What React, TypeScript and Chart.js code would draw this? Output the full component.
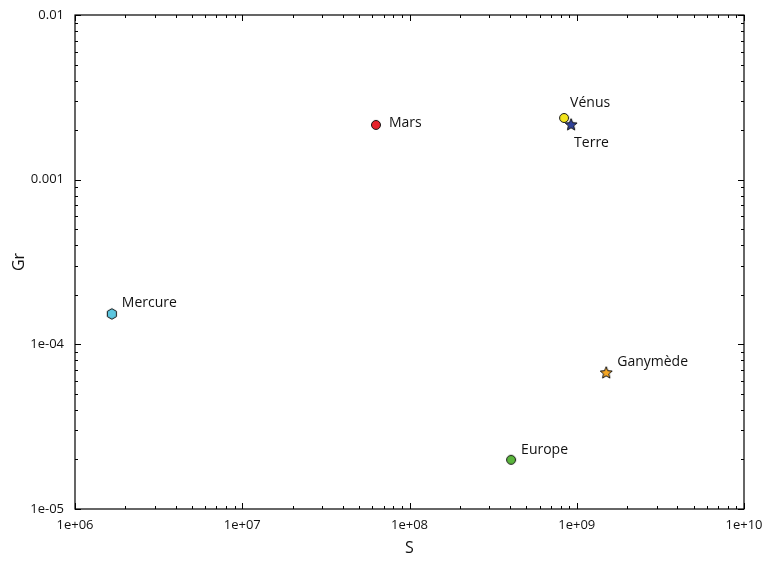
import React, { useEffect, useRef } from 'react';
import { Chart, registerables } from 'chart.js';

Chart.register(...registerables);

// ---- data ----
const names = ['Mercure', 'Mars', 'Vénus', 'Terre', 'Europe', 'Ganymède'];
const sValues = [1.66e6, 6.3e7, 8.4e8, 9.25e8, 4.05e8, 1.5e9];
const grValues = [1.53e-4, 2.15e-3, 2.37e-3, 2.15e-3, 1.99e-5, 6.7e-5];

const xTickValues = [1e6, 1e7, 1e8, 1e9, 1e10];
const xTickLabels = ['1e+06', '1e+07', '1e+08', '1e+09', '1e+10'];
const yTickValues = [1e-5, 1e-4, 1e-3, 1e-2];
const yTickLabels = ['1e-05', '1e-04', '0.001', '0.01'];

const xTitle = 'S';
const yTitle = 'Gr';

// ---- styles ----
const markerShapes = ['hexagon', 'circle', 'circle', 'star', 'circle', 'star'];
const markerColors = ['#5cc6df', '#e5222b', '#f3e41c', '#2f4199', '#5bb63d', '#f5a623'];
const labelOffsets: [number, number][] = [
  [10, -11],
  [13, -2],
  [6, -15],
  [3, 18],
  [10, -10],
  [11, -11],
];
const FONT = "'Open Sans', 'DejaVu Sans', sans-serif";

function makeMarker(shape: string, color: string): HTMLCanvasElement {
  const size = 16;
  const c = document.createElement('canvas');
  c.width = size;
  c.height = size;
  const ctx = c.getContext('2d')!;
  const cx = size / 2;
  const cy = size / 2;
  ctx.beginPath();
  if (shape === 'circle') {
    ctx.arc(cx, cy, 4.5, 0, Math.PI * 2);
  } else if (shape === 'hexagon') {
    const r = 5.3;
    for (let i = 0; i < 6; i++) {
      const a = (Math.PI / 3) * i + Math.PI / 6;
      const px = cx + r * Math.cos(a);
      const py = cy + r * Math.sin(a);
      if (i === 0) ctx.moveTo(px, py);
      else ctx.lineTo(px, py);
    }
    ctx.closePath();
  } else if (shape === 'star') {
    const ro = 6.3;
    const ri = 2.8;
    for (let i = 0; i < 10; i++) {
      const r = i % 2 === 0 ? ro : ri;
      const a = -Math.PI / 2 + (Math.PI / 5) * i;
      const px = cx + r * Math.cos(a);
      const py = cy + r * Math.sin(a);
      if (i === 0) ctx.moveTo(px, py);
      else ctx.lineTo(px, py);
    }
    ctx.closePath();
  }
  ctx.fillStyle = color;
  ctx.fill();
  ctx.lineWidth = 1;
  ctx.strokeStyle = '#111';
  ctx.lineJoin = 'round';
  ctx.stroke();
  return c;
}

function labelFor(values: number[], labels: string[], v: number): string {
  for (let i = 0; i < values.length; i++) {
    if (Math.abs(Math.log10(v) - Math.log10(values[i])) < 1e-6) return labels[i];
  }
  return '';
}

function zeroPadding(s: any) {
  s.paddingTop = 0;
  s.paddingBottom = 0;
  s.paddingLeft = 0;
  s.paddingRight = 0;
}

const framePlugin = {
  id: 'frameTicks',
  beforeDatasetsDraw(chart: any) {
    const { ctx, chartArea, scales } = chart;
    const { left, right, top, bottom } = chartArea;
    ctx.save();
    ctx.strokeStyle = '#000';
    ctx.lineWidth = 1.2;
    ctx.strokeRect(left, top, right - left, bottom - top);
    ctx.lineWidth = 1;
    ctx.beginPath();
    const xs = scales.x;
    const ys = scales.y;
    for (let d = 6; d <= 10; d++) {
      for (let k = 1; k <= 9; k++) {
        const v = k * Math.pow(10, d);
        if (v > 1e10 * 1.0001) break;
        const len = k === 1 ? 6 : 3;
        const px = Math.round(xs.getPixelForValue(v)) + 0.5;
        ctx.moveTo(px, bottom);
        ctx.lineTo(px, bottom - len);
        ctx.moveTo(px, top);
        ctx.lineTo(px, top + len);
      }
    }
    for (let d = -5; d <= -2; d++) {
      for (let k = 1; k <= 9; k++) {
        const v = k * Math.pow(10, d);
        if (v > 1e-2 * 1.0001) break;
        const len = k === 1 ? 6 : 3;
        const py = Math.round(ys.getPixelForValue(v)) + 0.5;
        ctx.moveTo(left, py);
        ctx.lineTo(left + len, py);
        ctx.moveTo(right, py);
        ctx.lineTo(right - len, py);
      }
    }
    ctx.stroke();
    ctx.restore();
  },
  afterDatasetsDraw(chart: any) {
    const { ctx } = chart;
    const meta = chart.getDatasetMeta(0);
    ctx.save();
    ctx.font = `14px ${FONT}`;
    ctx.fillStyle = '#111';
    ctx.textAlign = 'left';
    ctx.textBaseline = 'middle';
    meta.data.forEach((pt: any, i: number) => {
      const [dx, dy] = labelOffsets[i];
      ctx.fillText(names[i], pt.x + dx, pt.y + dy);
    });
    ctx.restore();
  },
};

export default function App() {
  const ref = useRef<HTMLCanvasElement>(null);
  useEffect(() => {
    if (!ref.current) return;
    Chart.defaults.font.family = FONT;
    const markers = markerShapes.map((s, i) => makeMarker(s, markerColors[i]));
    const chart = new Chart(ref.current, {
      type: 'scatter',
      data: {
        datasets: [
          {
            data: sValues.map((s, i) => ({ x: s, y: grValues[i] })),
            pointStyle: markers as any,
            pointRadius: 6,
            backgroundColor: markerColors,
            borderColor: '#111',
          },
        ],
      },
      plugins: [framePlugin],
      options: {
        animation: false,
        responsive: true,
        maintainAspectRatio: false,
        events: [],
        layout: { padding: { left: 0, top: 15, right: 23, bottom: 0 } },
        plugins: { legend: { display: false }, tooltip: { enabled: false } },
        scales: {
          x: {
            type: 'logarithmic',
            min: 1e6,
            max: 1e10,
            grid: { display: false, drawTicks: false },
            border: { display: false },
            ticks: {
              autoSkip: false,
              maxRotation: 0,
              padding: 8,
              color: '#111',
              font: { size: 13, family: FONT },
              callback: (v: any) => labelFor(xTickValues, xTickLabels, Number(v)),
            },
            title: {
              display: true,
              text: xTitle,
              color: '#111',
              font: { size: 16, family: FONT },
              padding: { top: 0, bottom: 4 },
            },
            afterBuildTicks: (s: any) => {
              s.ticks = xTickValues.map((v) => ({ value: v }));
            },
            afterFit: (s: any) => {
              s.height = 53;
              zeroPadding(s);
            },
          },
          y: {
            type: 'logarithmic',
            min: 1e-5,
            max: 1e-2,
            grid: { display: false, drawTicks: false },
            border: { display: false },
            ticks: {
              autoSkip: false,
              padding: 11,
              color: '#111',
              font: { size: 13, family: FONT },
              callback: (v: any) => labelFor(yTickValues, yTickLabels, Number(v)),
            },
            title: {
              display: true,
              text: yTitle,
              color: '#111',
              font: { size: 16, family: FONT },
              padding: { top: 10, bottom: 0 },
            },
            afterBuildTicks: (s: any) => {
              s.ticks = yTickValues.map((v) => ({ value: v }));
            },
            afterFit: (s: any) => {
              s.width = 75;
              zeroPadding(s);
            },
          },
        },
      },
    });
    return () => chart.destroy();
  }, []);
  return (
    <div style={{ position: 'fixed', left: 0, top: 0, width: 767, height: 562, background: '#fff' }}>
      <canvas ref={ref} />
    </div>
  );
}
